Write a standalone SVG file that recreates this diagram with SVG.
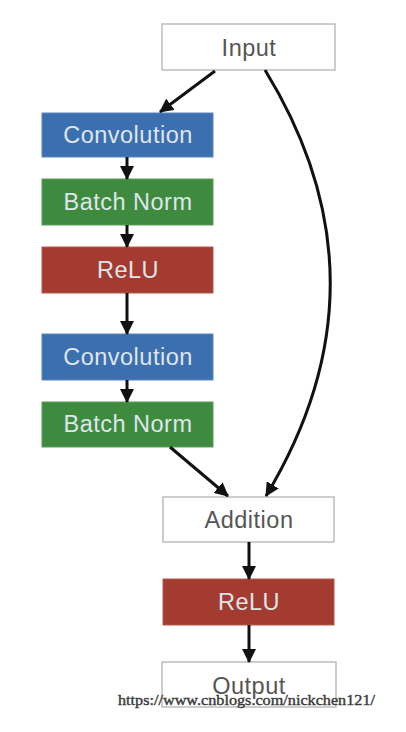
<svg xmlns="http://www.w3.org/2000/svg" width="406" height="732" viewBox="0 0 406 732">
<defs>
<marker id="ah" markerUnits="userSpaceOnUse" markerWidth="14" markerHeight="14" viewBox="0 0 14 14" refX="13" refY="7" orient="auto">
<path d="M0,0 L14,7 L0,14 z" fill="#111"/>
</marker>
<style>
.lbl{font-family:"Liberation Sans",Arial,sans-serif;font-size:23.5px;letter-spacing:0.5px;text-anchor:middle}
.w rect{fill:#fff;stroke:#bdbdbd;stroke-width:1.5}
.w text{fill:#555}
.blue rect{fill:#3b6fb0;stroke:#5a86bd;stroke-width:1}
.green rect{fill:#3e8b3f;stroke:#5b9d5b;stroke-width:1}
.red rect{fill:#a33b30;stroke:#b55a50;stroke-width:1}
.blue text,.green text,.red text{fill:#dfe6ea}
.conn path{fill:none;stroke:#111;stroke-width:3;marker-end:url(#ah)}
</style>
</defs>
<rect width="406" height="732" fill="#fff"/>
<g id="input" class="w"><rect x="162" y="24" width="173" height="46"/><text class="lbl" x="249" y="56">Input</text></g>
<g id="conv1" class="blue"><rect x="42" y="113" width="171" height="44"/><text class="lbl" x="128" y="143">Convolution</text></g>
<g id="bn1" class="green"><rect x="42" y="179" width="171" height="46"/><text class="lbl" x="128" y="210">Batch Norm</text></g>
<g id="relu1" class="red"><rect x="42" y="247" width="171" height="46"/><text class="lbl" x="128" y="278">ReLU</text></g>
<g id="conv2" class="blue"><rect x="42" y="334" width="171" height="46"/><text class="lbl" x="128" y="365">Convolution</text></g>
<g id="bn2" class="green"><rect x="42" y="402" width="171" height="45"/><text class="lbl" x="128" y="432">Batch Norm</text></g>
<g id="addition" class="w"><rect x="163" y="497" width="171" height="45"/><text class="lbl" x="249" y="528">Addition</text></g>
<g id="relu2" class="red"><rect x="163" y="579" width="171" height="46"/><text class="lbl" x="249" y="610">ReLU</text></g>
<g id="output" class="w"><rect x="162" y="662" width="174" height="45"/><text class="lbl" x="249" y="694">Output</text></g>
<g id="connectors" class="conn">
<path d="M215,71 L160,112"/>
<path d="M127,157 L127,179"/>
<path d="M127,225 L127,247"/>
<path d="M127,293 L127,334"/>
<path d="M127,380 L127,402"/>
<path d="M170,447 L228,496"/>
<path d="M265,70 Q395,282 266,496"/>
<path d="M249,542 L249,579"/>
<path d="M249,625 L249,662"/>
</g>
<text x="118" y="705" textLength="257" lengthAdjust="spacingAndGlyphs" style="font-family:'Liberation Serif','Times New Roman',serif;font-size:15px;fill:#3a3a3a;stroke:#3a3a3a;stroke-width:0.4">https://www.cnblogs.com/nickchen121/</text>
</svg>
